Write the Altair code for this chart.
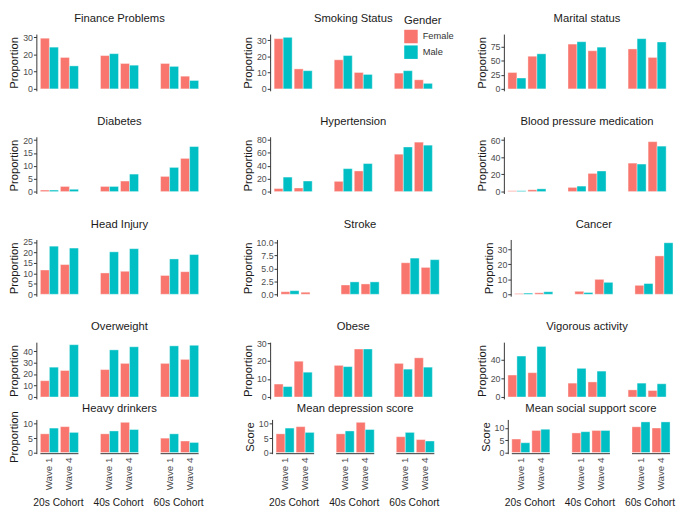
import altair as alt
import pandas as pd

COHORTS = ["20s Cohort", "40s Cohort", "60s Cohort"]
WAVES = ["Wave 1", "Wave 4"]
GENDERS = ["Female", "Male"]
GENDER_COLORS = ["#F8766D", "#00BFC4"]

PANEL_TITLES = [
    "Finance Problems", "Smoking Status", "Marital status",
    "Diabetes", "Hypertension", "Blood pressure medication",
    "Head Injury", "Stroke", "Cancer",
    "Overweight", "Obese", "Vigorous activity",
    "Heavy drinkers", "Mean depression score", "Mean social support score",
]
Y_TITLES = ["Proportion"] * 13 + ["Score", "Score"]

# each list: 20s W1, 20s W4, 40s W1, 40s W4, 60s W1, 60s W4
FINANCE_F = [29.5, 18.3, 19.4, 14.8, 14.8, 7.4]
FINANCE_M = [24.3, 13.4, 20.5, 13.8, 13.1, 4.9]
SMOKING_F = [30.9, 12.3, 17.9, 10.1, 9.7, 5.6]
SMOKING_M = [31.7, 11.2, 20.5, 8.9, 11.2, 3.4]
MARITAL_F = [28.9, 57.8, 79.3, 67.5, 70.7, 55.7]
MARITAL_M = [19.3, 62.1, 83.5, 73.9, 88.9, 83.0]
DIABETES_F = [0.6, 2.0, 2.0, 4.1, 5.9, 12.9]
DIABETES_M = [0.6, 0.9, 2.0, 6.8, 9.4, 17.5]
HYPERTENSION_F = [4.7, 5.6, 15.9, 32.0, 58.0, 76.7]
HYPERTENSION_M = [22.5, 16.4, 35.6, 43.5, 69.2, 72.0]
BPMED_F = [1.0, 2.1, 4.9, 21.2, 33.2, 58.2]
BPMED_M = [1.0, 3.2, 6.4, 24.0, 32.1, 53.0]
HEADINJ_F = [11.6, 14.2, 10.2, 11.0, 9.0, 10.8]
HEADINJ_M = [23.0, 22.1, 20.3, 21.8, 16.9, 19.0]
STROKE_F = [0.5, 0.4, 1.8, 2.0, 6.1, 5.2]
STROKE_M = [0.7, 0.0, 2.4, 2.4, 7.0, 6.7]
CANCER_F = [0.5, 1.0, 2.0, 10.0, 6.0, 25.7]
CANCER_M = [0.8, 1.7, 1.2, 8.0, 7.2, 34.5]
OVERWEIGHT_F = [14.2, 23.1, 23.9, 29.3, 29.3, 32.8]
OVERWEIGHT_M = [26.0, 45.6, 41.1, 43.8, 44.6, 45.1]
OBESE_F = [7.2, 19.9, 17.6, 26.7, 18.7, 21.8]
OBESE_M = [5.8, 13.8, 16.9, 26.7, 15.5, 16.6]
VIGOROUS_F = [23.7, 26.3, 15.0, 16.3, 7.7, 7.0]
VIGOROUS_M = [44.3, 54.7, 31.0, 28.0, 15.0, 14.3]
DRINKERS_F = [6.5, 9.0, 6.5, 10.5, 5.0, 4.0]
DRINKERS_M = [8.5, 7.0, 7.5, 8.0, 6.5, 3.5]
DEPRESSION_F = [6.5, 9.0, 6.5, 10.5, 5.5, 4.5]
DEPRESSION_M = [8.5, 7.0, 7.5, 8.0, 7.0, 4.0]
SUPPORT_F = [5.5, 9.0, 8.0, 9.0, 10.5, 10.0]
SUPPORT_M = [4.0, 9.5, 8.5, 9.0, 12.5, 12.5]

FEMALE = [FINANCE_F, SMOKING_F, MARITAL_F, DIABETES_F, HYPERTENSION_F, BPMED_F,
          HEADINJ_F, STROKE_F, CANCER_F, OVERWEIGHT_F, OBESE_F, VIGOROUS_F,
          DRINKERS_F, DEPRESSION_F, SUPPORT_F]
MALE = [FINANCE_M, SMOKING_M, MARITAL_M, DIABETES_M, HYPERTENSION_M, BPMED_M,
        HEADINJ_M, STROKE_M, CANCER_M, OVERWEIGHT_M, OBESE_M, VIGOROUS_M,
        DRINKERS_M, DEPRESSION_M, SUPPORT_M]

Y_TICKS = [
    [0, 10, 20, 30], [0, 10, 20, 30], [0, 25, 50, 75],
    [0, 5, 10, 15, 20], [0, 20, 40, 60, 80], [0, 20, 40, 60],
    [0, 5, 10, 15, 20, 25], [0, 2.5, 5, 7.5, 10], [0, 10, 20, 30],
    [0, 10, 20, 30, 40], [0, 10, 20, 30], [0, 20, 40],
    [0, 5, 10], [0, 5, 10], [0, 5, 10],
]
Y_MAX = [31.9, 33.7, 97, 21.3, 85, 63.9, 26.2, 10.6, 36.7, 47.8, 30.5, 59.3,
         11.5, 11.5, 13.5]

CW = [(c, w) for c in COHORTS for w in WAVES]
X_DOMAIN = [
    f"{COHORTS[0]}|Wave 1", f"{COHORTS[0]}|Wave 4", "gap_a",
    f"{COHORTS[1]}|Wave 1", f"{COHORTS[1]}|Wave 4", "gap_b",
    f"{COHORTS[2]}|Wave 1", f"{COHORTS[2]}|Wave 4",
]

FONT = "Liberation Sans"
W = 170
H_TOP = 58
H_BOTTOM = 35

legend = alt.Legend(
    title="Gender", orient="none", legendX=376, legendY=-19,
    titleFontSize=11.5, titleFontWeight="normal", titleColor="#1a1a1a",
    labelFontSize=9.5, labelColor="#333333", symbolType="square",
    symbolSize=190, symbolStrokeWidth=0, rowPadding=2, titlePadding=3,
    labelOffset=5,
)


def x_scale():
    return alt.Scale(domain=X_DOMAIN, paddingInner=0.1, paddingOuter=0.2)


def make_panel(i, bottom):
    H = H_BOTTOM if bottom else H_TOP
    rows = []
    for k, (c, w) in enumerate(CW):
        rows.append({"pos": f"{c}|{w}", "gender": "Female", "value": FEMALE[i][k]})
        rows.append({"pos": f"{c}|{w}", "gender": "Male", "value": MALE[i][k]})
    df = pd.DataFrame(rows)
    ymax = Y_MAX[i]
    ymin = -0.035 * ymax
    fmt = ".1f" if any(t != int(t) for t in Y_TICKS[i]) else "d"

    bars = alt.Chart(df).mark_bar(stroke="white", strokeWidth=0.4).encode(
        x=alt.X("pos:N", scale=x_scale(), axis=None),
        xOffset=alt.XOffset("gender:N", scale=alt.Scale(domain=GENDERS, paddingInner=0, paddingOuter=0)),
        y=alt.Y(
            "value:Q", stack=None,
            scale=alt.Scale(domain=[ymin, ymax], nice=False, zero=False),
            axis=alt.Axis(
                values=Y_TICKS[i], format=fmt, title=Y_TITLES[i], grid=False,
                domain=True, domainColor="#333333", ticks=True, tickColor="#333333",
                tickSize=3, labelFontSize=9, labelColor="#4D4D4D", labelPadding=1,
                titleFontSize=11.5, titleFontWeight="normal", titleColor="#1a1a1a",
                titlePadding=3,
            ),
        ),
        color=alt.Color("gender:N", scale=alt.Scale(domain=GENDERS, range=GENDER_COLORS), legend=legend),
    )

    title_df = pd.DataFrame({"title": [PANEL_TITLES[i]]})
    title = alt.Chart(title_df).mark_text(
        fontSize=11.5, color="#1a1a1a", baseline="bottom", align="center"
    ).encode(x=alt.value(W / 2), y=alt.value(-6 if bottom else -10), text="title:N")

    layers = [bars, title]

    if bottom:
        wave_df = pd.DataFrame({
            "pos": [f"{c}|{w}" for c, w in CW],
            "wave": [w for c, w in CW],
        })
        wave_text = alt.Chart(wave_df).mark_text(
            angle=270, align="right", baseline="middle", fontSize=10, color="#4D4D4D"
        ).encode(
            x=alt.X("pos:N", scale=x_scale(), axis=None),
            y=alt.value(H + 4),
            text="wave:N",
        )
        seg_df = pd.DataFrame({
            "start": [f"{c}|Wave 1" for c in COHORTS],
            "end": [f"{c}|Wave 4" for c in COHORTS],
            "label": COHORTS,
        })
        rule = alt.Chart(seg_df).mark_rule(color="#333333", strokeWidth=1).encode(
            x=alt.X("start:N", scale=x_scale(), bandPosition=0, axis=None),
            x2=alt.X2("end", bandPosition=1),
            y=alt.value(H),
        )
        cohort_text = alt.Chart(seg_df).mark_text(
            baseline="top", fontSize=10.5, color="#1a1a1a"
        ).encode(
            x=alt.X("start:N", scale=x_scale(), bandPosition=1, axis=None),
            y=alt.value(H + 45),
            text="label:N",
        )
        layers += [wave_text, rule, cohort_text]

    return alt.layer(*layers).properties(width=W, height=H)


top_rows = []
for r in range(4):
    top_rows.append(alt.hconcat(*[make_panel(r * 3 + c, False) for c in range(3)], spacing=40))
top_block = alt.vconcat(*top_rows, spacing=22)
bottom_row = alt.hconcat(*[make_panel(12 + c, True) for c in range(3)], spacing=40)

chart = alt.vconcat(top_block, bottom_row, spacing=0).properties(
    padding=0, background="white"
).configure(font=FONT).configure_view(stroke=None)

chart.save("out.html", embed_options={"renderer": "svg", "actions": False})
